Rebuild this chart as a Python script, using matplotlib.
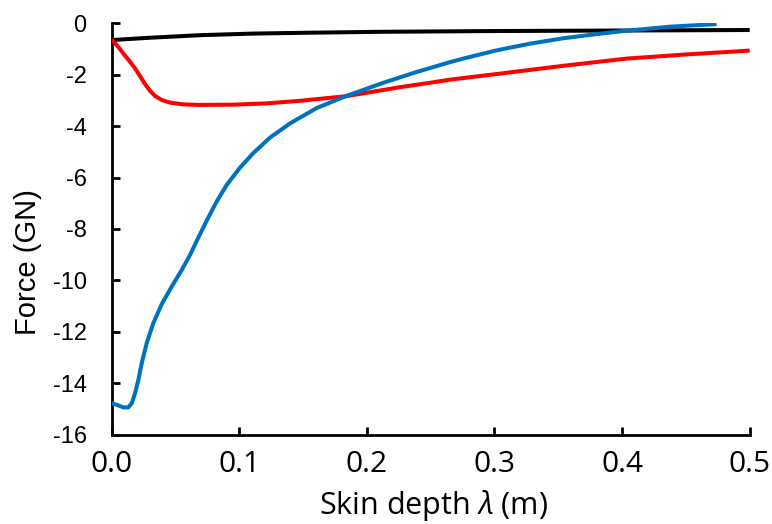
import matplotlib
matplotlib.use("Agg")
import matplotlib.pyplot as plt

# Skin depth (m) and force (GN)
blue_x = [0.0, 0.0039, 0.0091, 0.0130, 0.0157, 0.0183, 0.0209, 0.0235, 0.0274, 0.0326,
          0.0392, 0.0470, 0.0549, 0.0614, 0.0679, 0.0744, 0.0823, 0.0901, 0.1005, 0.1110,
          0.1241, 0.1397, 0.1607, 0.184, 0.2129, 0.239, 0.265, 0.2755, 0.3017, 0.328,
          0.354, 0.380, 0.401, 0.4375, 0.474]
blue_y = [-14.77, -14.83, -14.93, -14.93, -14.77, -14.38, -13.86, -13.22, -12.44, -11.66,
          -10.92, -10.24, -9.59, -9.01, -8.33, -7.68, -6.93, -6.29, -5.62, -5.05,
          -4.45, -3.90, -3.30, -2.83, -2.32, -1.90, -1.52, -1.38, -1.06, -0.80,
          -0.59, -0.43, -0.31, -0.14, -0.04]

red_x = [0.0, 0.0039, 0.0091, 0.0143, 0.0183, 0.0222, 0.0261, 0.0300, 0.0339, 0.0392,
         0.0457, 0.0561, 0.0692, 0.0953, 0.1215, 0.1476, 0.184, 0.226, 0.2494, 0.265,
         0.3017, 0.354, 0.4036, 0.45, 0.5]
red_y = [-0.66, -0.85, -1.18, -1.50, -1.76, -2.06, -2.37, -2.63, -2.83, -2.99,
         -3.09, -3.16, -3.18, -3.17, -3.12, -3.02, -2.84, -2.49, -2.32, -2.20,
         -1.98, -1.66, -1.38, -1.22, -1.07]

black_x = [0.0, 0.030, 0.0697, 0.11, 0.148, 0.21, 0.3, 0.4, 0.5]
black_y = [-0.66, -0.57, -0.47, -0.41, -0.38, -0.34, -0.31, -0.29, -0.27]

x_ticks = [0.0, 0.1, 0.2, 0.3, 0.4, 0.5]
x_tick_labels = ["0.0", "0.1", "0.2", "0.3", "0.4", "0.5"]
y_ticks = [0, -2, -4, -6, -8, -10, -12, -14, -16]
y_tick_labels = ["0", "-2", "-4", "-6", "-8", "-10", "-12", "-14", "-16"]

plt.rcParams["mathtext.fontset"] = "custom"
plt.rcParams["mathtext.rm"] = "Open Sans"
plt.rcParams["mathtext.it"] = "Open Sans:italic"

fig = plt.figure(figsize=(7.72, 5.24), dpi=100)
ax = fig.add_axes([0.1447, 0.170, 0.8264, 0.786])

kw = dict(lw=2.9, solid_capstyle="butt", solid_joinstyle="round")
ax.plot(black_x, black_y, color="black", zorder=2, **kw)
ax.plot(red_x, red_y, color="#FF0000", zorder=3, **kw)
ax.plot(blue_x, blue_y, color="#0070C0", zorder=4, **kw)

ax.set_xlim(0, 0.5)
ax.set_ylim(-16, 0)
for s in ["top", "right"]:
    ax.spines[s].set_visible(False)
for s in ["left", "bottom"]:
    ax.spines[s].set_linewidth(2.0)

ax.set_xticks(x_ticks)
ax.set_xticklabels(x_tick_labels, fontfamily="Open Sans", fontsize=21.5)
ax.set_yticks(y_ticks)
ax.set_yticklabels(y_tick_labels, fontfamily="Liberation Sans", fontsize=17)
ax.tick_params(axis="both", direction="in", length=6, width=2.0)
ax.tick_params(axis="x", pad=11)
ax.tick_params(axis="y", pad=18)

ax.set_xlabel("Skin depth $\\it{λ}$ (m)", fontfamily="Open Sans", fontsize=22)
ax.set_ylabel("Force (GN)", fontfamily="Liberation Sans", fontsize=21)
ax.xaxis.set_label_coords(0.505, -0.13)
ax.yaxis.set_label_coords(-0.11, 0.42)

fig.savefig("out.png", dpi=100)
